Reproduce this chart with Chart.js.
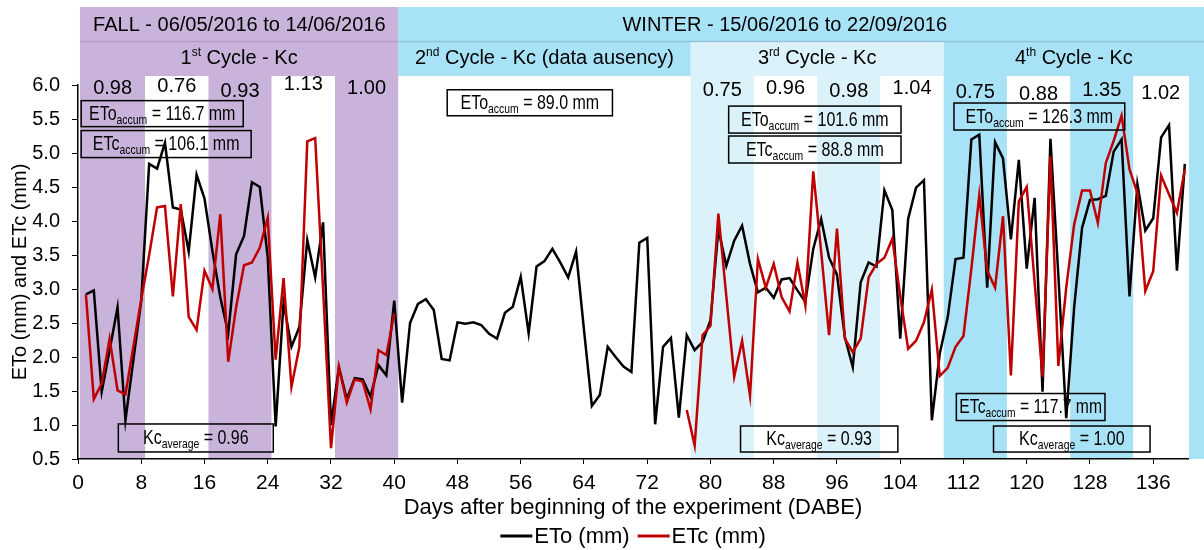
<!DOCTYPE html>
<html>
<head>
<meta charset="utf-8">
<script src="https://cdn.jsdelivr.net/npm/chart.js@4.4.0/dist/chart.umd.min.js"></script>
<style>
  html, body { margin: 0; padding: 0; background: #fff; }
  canvas { display: block; }
</style>
</head>
<body>
<canvas id="etChart" width="1204" height="550"></canvas>
<script>
  // Dias após o início do experimento (DABE)
  const days = Array.from({ length: 140 }, (_, i) => i + 1);

  // ETo diária (mm), dias 1 a 140
  const eto = [
    2.92, 2.98, 1.49, 2.10, 2.73, 1.07, 1.95, 2.83, 4.84, 4.77,
    5.15, 4.20, 4.17, 3.55, 4.68, 4.33, 3.56, 2.88, 2.35, 3.51,
    3.78, 4.57, 4.50, 3.46, 0.98, 2.80, 2.15, 2.44, 3.72, 3.17,
    3.98, 1.00, 1.85, 1.38, 1.69, 1.67, 1.42, 1.88, 1.73, 2.83,
    1.33, 2.50, 2.78, 2.85, 2.69, 1.97, 1.95, 2.51, 2.49, 2.51,
    2.47, 2.34, 2.27, 2.65, 2.74, 3.18, 2.35, 3.33, 3.41, 3.59,
    3.39, 3.17, 3.55, 2.40, 1.28, 1.44, 2.15, 2.00, 1.86, 1.78,
    3.68, 3.75, 1.01, 2.15, 2.28, 1.11, 2.32, 2.10, 2.22, 2.54,
    3.88, 3.34, 3.71, 3.93, 3.37, 2.95, 3.02, 2.87, 3.14, 3.16,
    2.98, 2.81, 3.59, 4.03, 3.46, 3.21, 2.29, 1.85, 3.10, 3.39,
    3.33, 4.45, 4.16, 2.27, 4.03, 4.49, 4.60, 1.07, 2.05, 2.58,
    3.44, 3.46, 5.20, 5.27, 3.02, 5.16, 4.92, 3.73, 4.90, 3.30,
    4.34, 1.49, 5.21, 3.20, 1.10, 2.73, 3.90, 4.31, 4.32, 4.37,
    5.02, 5.20, 2.89, 4.54, 3.86, 4.04, 5.23, 5.41, 3.27, 4.84
  ];

  // ETc (mm): ciclo 1 (dias 1-40) e ciclos 3-4 (dias 77-140)
  const etcFall = [
    2.92, 1.38, 1.61, 2.27, 1.51, 1.45, 2.15, 2.85, 3.50, 4.20,
    4.22, 2.89, 4.25, 2.59, 2.40, 3.27, 3.00, 4.10, 1.93, 2.73,
    3.35, 3.39, 3.61, 4.05, 1.96, 3.16, 1.56, 2.15, 5.17, 5.22,
    3.00, 0.66, 1.85, 1.33, 1.67, 1.64, 1.23, 2.10, 2.03, 2.64
  ];
  const etcWinter = [
    1.22, 0.70, 2.32, 2.46, 4.11, 2.90, 1.71, 2.24, 1.43, 3.44,
    3.02, 3.37, 2.88, 2.67, 3.39, 2.76, 4.73, 3.55, 2.32, 3.89,
    2.27, 2.07, 2.27, 3.17, 3.37, 3.46, 3.74, 2.90, 2.12, 2.24,
    2.51, 2.99, 1.72, 1.84, 2.15, 2.31, 3.30, 4.38, 3.27, 3.02,
    4.07, 1.73, 4.29, 4.50, 3.10, 1.71, 4.95, 1.87, 3.02, 3.95,
    4.45, 4.45, 3.97, 4.85, 5.18, 5.55, 4.76, 4.41, 2.97, 3.26,
    4.67, 4.39, 4.12, 4.76
  ];
  const etc = etcFall.concat(Array(36).fill(null), etcWinter);

  // Faixas de Kc (início e fim em dias)
  const kcValues = ['0.98', '0.76', '0.93', '1.13', '1.00', '0.75', '0.96', '0.98', '1.04', '0.75', '0.88', '1.35', '1.02'];
  const kcStart = [0.25, 8.5, 16.5, 24.5, 32.5, 77.5, 85.5, 93.5, 101.5, 109.5, 117.5, 125.5, 133.5];
  const kcEnd = [8.5, 16.5, 24.5, 32.5, 40.5, 85.5, 93.5, 101.5, 109.5, 117.5, 125.5, 133.5, 140.4];

  // Estações e ciclos (cabeçalho)
  const seasonLabels = ['FALL - 06/05/2016 to 14/06/2016', 'WINTER - 15/06/2016 to 22/09/2016'];
  const seasonStart = [0.25, 40.5];
  const seasonEnd = [40.5, null];
  const cycleLabels = [['1', 'st', ' Cycle - Kc'], ['2', 'nd', ' Cycle - Kc (data ausency)'], ['3', 'rd', ' Cycle - Kc'], ['4', 'th', ' Cycle - Kc']];
  const cycleStart = [0.25, 40.5, 77.5, 109.5];
  const cycleEnd = [40.5, 77.5, 109.5, null];

  // Caixas de texto: [principal, subscrito, resto]
  const boxLabels = [
    ['ETo', 'accum', ' = 116.7 mm'], ['ETc', 'accum', ' = 106.1 mm'], ['Kc', 'average', ' = 0.96'],
    ['ETo', 'accum', ' = 89.0 mm'],
    ['ETo', 'accum', ' = 101.6 mm'], ['ETc', 'accum', ' = 88.8 mm'], ['Kc', 'average', ' = 0.93'],
    ['ETo', 'accum', ' = 126.3 mm'], ['ETc', 'accum', ' = 117.7 mm'], ['Kc', 'average', ' = 1.00']
  ];
  const boxFrom = [0.4, 0.4, 5.1, 46.7, 82.3, 82.3, 83.8, 110.8, 111.1, 115.8];
  const boxTo = [20.9, 21.9, 24.7, 67.6, 104.1, 104.1, 103.7, 132.4, 129.9, 135.6];
  const boxTop = [5.77, 5.33, 1.015, 5.93, 5.69, 5.25, 0.985, 5.735, 1.463, 0.985];

  // Estilo
  const PURPLE = '#c9b3da';
  const BLUE = '#a8e2f6';
  const LIGHT = '#dcf2fa';
  const WHITE = '#ffffff';
  const RED = '#c00000';
  const SANS = '"Liberation Sans", Arial, sans-serif';
  const kcFill = [PURPLE, WHITE, PURPLE, WHITE, PURPLE, LIGHT, WHITE, LIGHT, WHITE, BLUE, WHITE, BLUE, WHITE];
  const kcLabelY = [88, 86, 91, 84, 88, 90, 88, 91, 88, 92, 94, 90, 93];
  const seasonFill = [PURPLE, BLUE];
  const seasonTextAt = [20.4, 89.4];
  const cycleFill = [PURPLE, BLUE, LIGHT, BLUE];
  const boxHeight = [26, 27, 28, 26, 27, 27, 26, 27, 27, 26];

  // Texto com subscrito / sobrescrito (squeeze < 1 imita fonte condensada)
  function drawParts(ctx, parts, cx, baseY, maxW, squeeze) {
    let total = 0;
    const widths = parts.map(p => {
      ctx.font = p[1] + 'px ' + SANS;
      const w = ctx.measureText(p[0]).width;
      total += w;
      return w;
    });
    let k = squeeze || 1;
    if (maxW && total * k > maxW) k = maxW / total;
    ctx.save();
    ctx.translate(cx - total * k / 2, baseY);
    ctx.scale(k, 1);
    ctx.textAlign = 'left';
    ctx.textBaseline = 'alphabetic';
    ctx.fillStyle = '#000';
    let x = 0;
    parts.forEach((p, i) => {
      ctx.font = p[1] + 'px ' + SANS;
      ctx.fillText(p[0], x, p[2]);
      x += widths[i];
    });
    ctx.restore();
  }

  // Fundo: faixas de Kc e cabeçalho
  const backgroundPlugin = {
    id: 'backgroundPlugin',
    beforeDraw(chart) {
      const { ctx, chartArea, scales: { x, y } } = chart;
      const bandTop = 76;
      const bandBottom = y.getPixelForValue(0.5);
      ctx.save();
      ctx.fillStyle = '#fff';
      ctx.fillRect(0, 0, chart.width, chart.height);

      kcValues.forEach((v, i) => {
        const x1 = x.getPixelForValue(kcStart[i]);
        const x2 = x.getPixelForValue(kcEnd[i]);
        ctx.fillStyle = kcFill[i];
        ctx.fillRect(x1, bandTop, x2 - x1, bandBottom - bandTop);
      });
      ctx.fillStyle = BLUE;
      ctx.fillRect(chartArea.right + 1, bandTop, chart.width - chartArea.right - 1, bandBottom - bandTop);

      // linha 1: estações
      seasonLabels.forEach((s, i) => {
        const x1 = x.getPixelForValue(seasonStart[i]);
        const x2 = seasonEnd[i] === null ? chart.width : x.getPixelForValue(seasonEnd[i]);
        ctx.fillStyle = seasonFill[i];
        ctx.fillRect(x1, 7, x2 - x1, 35);
        drawParts(ctx, [[s, 20, 0]], x.getPixelForValue(seasonTextAt[i]), 31);
      });
      // linha 2: ciclos
      cycleLabels.forEach((c, i) => {
        const x1 = x.getPixelForValue(cycleStart[i]);
        const x2 = cycleEnd[i] === null ? chart.width : x.getPixelForValue(cycleEnd[i]);
        ctx.fillStyle = cycleFill[i];
        ctx.fillRect(x1, 42, x2 - x1, bandTop - 42);
        drawParts(ctx, [[c[0], 20, 0], [c[1], 12, -8], [c[2], 20, 0]], (x1 + x2) / 2, 64);
      });
      ctx.strokeStyle = 'rgba(60, 60, 90, 0.18)';
      ctx.lineWidth = 1.5;
      ctx.beginPath();
      ctx.moveTo(x.getPixelForValue(0.25), 41.5);
      ctx.lineTo(chart.width, 41.5);
      ctx.stroke();

      // valores de Kc
      ctx.fillStyle = '#000';
      ctx.font = '20px ' + SANS;
      ctx.textAlign = 'center';
      ctx.textBaseline = 'middle';
      kcValues.forEach((v, i) => {
        const cx = (x.getPixelForValue(kcStart[i]) + x.getPixelForValue(kcEnd[i])) / 2;
        ctx.fillText(v, cx, kcLabelY[i]);
      });
      ctx.restore();
    }
  };

  // Caixas de ETo/ETc acumulada e Kc médio + legenda
  const notesPlugin = {
    id: 'notesPlugin',
    afterDatasetsDraw(chart) {
      const { ctx, scales: { x, y } } = chart;
      ctx.save();
      boxLabels.forEach((b, i) => {
        const x1 = x.getPixelForValue(boxFrom[i]);
        const x2 = x.getPixelForValue(boxTo[i]);
        const top = y.getPixelForValue(boxTop[i]);
        const h = boxHeight[i];
        ctx.strokeStyle = '#000';
        ctx.lineWidth = 1.5;
        ctx.strokeRect(x1, top, x2 - x1, h);
        drawParts(ctx, [[b[0], 20, 0], [b[1], 13, 4], [b[2], 20, 0]],
          (x1 + x2) / 2, top + h / 2 + 6, x2 - x1 - 6, 0.8);
      });
      ctx.restore();
    },
    afterDraw(chart) {
      const { ctx, chartArea } = chart;
      const items = chart.data.datasets.map(d => ({ label: d.label, color: d.borderColor }));
      ctx.save();
      ctx.font = '22px ' + SANS;
      const lineLen = 32;
      const widths = items.map(it => ctx.measureText(it.label).width);
      const total = widths.reduce((a, w) => a + w + lineLen + 2, 0) + 8;
      let cx = (chartArea.left + chartArea.right) / 2 - total / 2;
      const cy = 537;
      ctx.textBaseline = 'middle';
      ctx.textAlign = 'left';
      items.forEach((it, i) => {
        ctx.strokeStyle = it.color;
        ctx.lineWidth = 3;
        ctx.beginPath();
        ctx.moveTo(cx, cy - 1);
        ctx.lineTo(cx + lineLen, cy - 1);
        ctx.stroke();
        ctx.fillStyle = '#000';
        ctx.fillText(it.label, cx + lineLen + 2, cy);
        cx += lineLen + 2 + widths[i] + 8;
      });
      ctx.restore();
    }
  };

  Chart.defaults.font.family = SANS;
  Chart.defaults.color = '#000';

  const etData = {
    datasets: [{
      label: 'ETo (mm)',
      data: days.map((d, i) => ({ x: d, y: eto[i] })),
      borderColor: '#000000',
      borderWidth: 2.5,
      pointRadius: 0,
      order: 1
    }, {
      label: 'ETc (mm)',
      data: days.map((d, i) => ({ x: d, y: etc[i] })),
      borderColor: RED,
      borderWidth: 2.5,
      pointRadius: 0,
      spanGaps: false,
      order: 0
    }]
  };

  const etConfig = {
    type: 'line',
    data: etData,
    options: {
      responsive: false,
      animation: false,
      layout: { padding: { top: 85, right: 16, bottom: 27, left: 0 } },
      plugins: {
        legend: { display: false },
        tooltip: { enabled: false }
      },
      scales: {
        x: {
          type: 'linear',
          min: 0,
          max: 140.4,
          ticks: {
            stepSize: 8,
            includeBounds: false,
            autoSkip: false,
            maxRotation: 0,
            padding: 7,
            font: { size: 21 }
          },
          grid: { drawOnChartArea: false, tickLength: 5, color: '#000' },
          border: { color: '#000', width: 1.5 },
          title: {
            display: true,
            text: 'Days after beginning of the experiment (DABE)',
            font: { size: 22 },
            padding: { top: 0, bottom: 2 }
          },
          afterFit(scale) { scale.height = 64; }
        },
        y: {
          min: 0.5,
          max: 6.0,
          ticks: {
            stepSize: 0.5,
            padding: 12,
            font: { size: 20 },
            callback: v => Number(v).toFixed(1)
          },
          grid: { drawOnChartArea: false, tickLength: 6, color: '#000' },
          border: { color: '#000', width: 1.5 },
          title: {
            display: true,
            text: 'ETo (mm) and ETc (mm)',
            font: { size: 20 },
            padding: { top: 8, bottom: 0 }
          },
          afterFit(scale) { scale.width = 78; }
        }
      }
    },
    plugins: [backgroundPlugin, notesPlugin]
  };

  new Chart(document.getElementById('etChart'), etConfig);
</script>
</body>
</html>
